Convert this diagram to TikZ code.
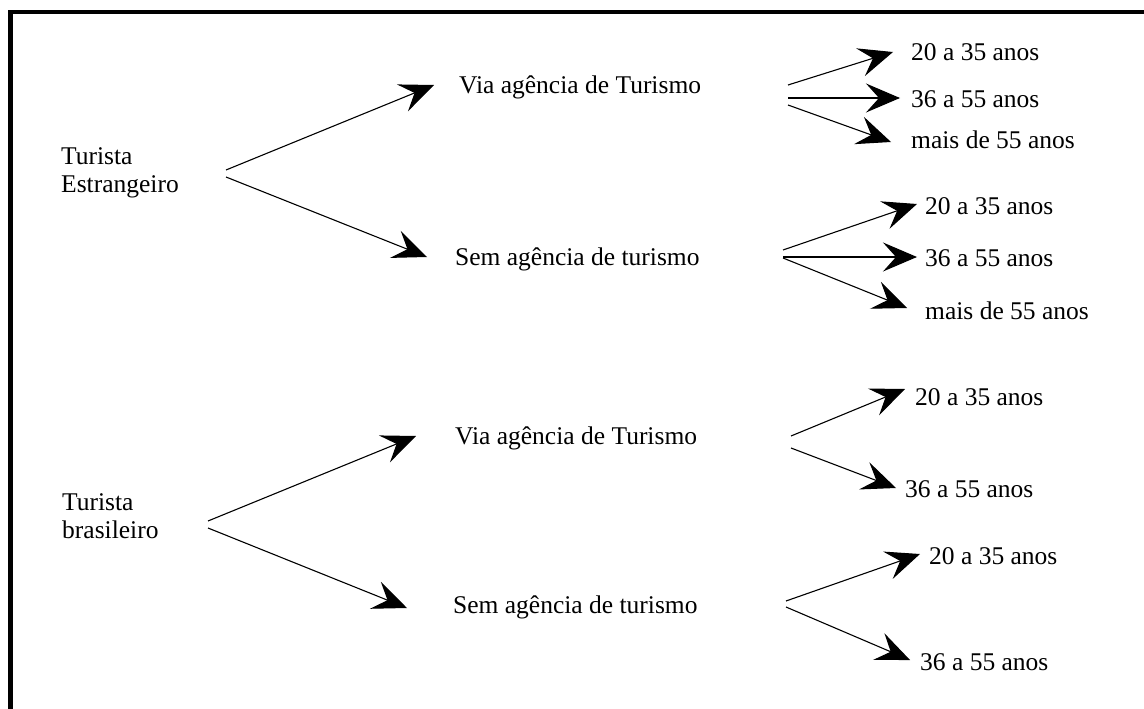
\documentclass[tikz,border=0pt]{standalone}
\usepackage{fontspec}
\setmainfont{Liberation Serif}
\usetikzlibrary{arrows.meta}
\begin{document}
\begin{tikzpicture}[x=1pt,y=-1pt,
  lbl/.style={anchor=west,inner sep=0pt,font=\fontsize{25.5}{28.5}\selectfont,align=left},
  arr/.style={line width=1.1pt,-{Stealth[length=34pt,width=29pt,inset=13pt]}},
  frame/.style={line width=4.3pt}]
\useasboundingbox (0,0) rectangle (1144,709);
% frame (top and left)
\coordinate (fa) at (10.5,709);
\coordinate (fb) at (10.5,12);
\coordinate (fc) at (1144,12);
\draw[frame] (fa) -- (fb) -- (fc);

% ---- Upper: Turista Estrangeiro
\node[lbl] (te) at (61,173) {Turista\\Estrangeiro};
\node[lbl] (v1) at (459,87) {Via agência de Turismo};
\node[lbl] (s1) at (455,259) {Sem agência de turismo};
\coordinate (te1) at (226,170);
\coordinate (te2) at (226,177);
\coordinate (v1t) at (434,85);
\coordinate (s1t) at (427,257);
\draw[arr] (te1) -- (v1t);
\draw[arr] (te2) -- (s1t);

\node[lbl] (a1) at (911,52) {20 a 35 anos};
\node[lbl] (a2) at (911,99) {36 a 55 anos};
\node[lbl] (a3) at (911,140) {mais de 55 anos};
\coordinate (v1a) at (788,85);
\coordinate (v1b) at (788,98);
\coordinate (v1c) at (788,105);
\coordinate (a1t) at (893,52);
\coordinate (a2t) at (900,98);
\coordinate (a3t) at (891,142);
\draw[arr] (v1a) -- (a1t);
\draw[arr] (v1b) -- (a2t);
\draw[arr] (v1c) -- (a3t);

\node[lbl] (b1) at (925,206) {20 a 35 anos};
\node[lbl] (b2) at (925,258) {36 a 55 anos};
\node[lbl] (b3) at (925,311) {mais de 55 anos};
\coordinate (s1a) at (783,250);
\coordinate (s1b) at (783,257);
\coordinate (s1c) at (783,258);
\coordinate (b1t) at (917,204);
\coordinate (b2t) at (917,257);
\coordinate (b3t) at (907,308);
\draw[arr] (s1a) -- (b1t);
\draw[arr] (s1b) -- (b2t);
\draw[arr] (s1c) -- (b3t);

% ---- Lower: Turista brasileiro
\node[lbl] (tb) at (62,516) {Turista\\brasileiro};
\node[lbl] (v2) at (455,438) {Via agência de Turismo};
\node[lbl] (s2) at (453,607) {Sem agência de turismo};
\coordinate (tb1) at (208,521);
\coordinate (tb2) at (208,528);
\coordinate (v2t) at (416,436);
\coordinate (s2t) at (407,608);
\draw[arr] (tb1) -- (v2t);
\draw[arr] (tb2) -- (s2t);

\node[lbl] (c1) at (915,397) {20 a 35 anos};
\node[lbl] (c2) at (905,489) {36 a 55 anos};
\coordinate (v2a) at (791,436);
\coordinate (v2b) at (791,448);
\coordinate (c1t) at (905,389);
\coordinate (c2t) at (896,488);
\draw[arr] (v2a) -- (c1t);
\draw[arr] (v2b) -- (c2t);

\node[lbl] (d1) at (929,556) {20 a 35 anos};
\node[lbl] (d2) at (920,662) {36 a 55 anos};
\coordinate (s2a) at (786,601);
\coordinate (s2b) at (786,607);
\coordinate (d1t) at (920,554);
\coordinate (d2t) at (910,660);
\draw[arr] (s2a) -- (d1t);
\draw[arr] (s2b) -- (d2t);
\end{tikzpicture}
\end{document}
